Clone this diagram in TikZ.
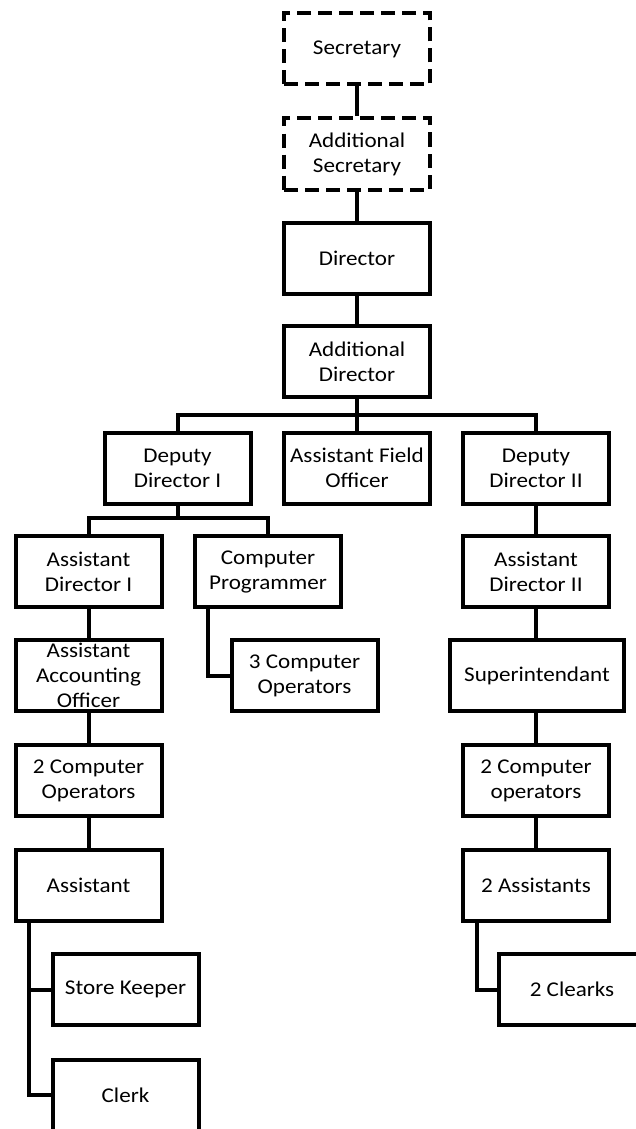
\documentclass[tikz,border=0pt]{standalone}
\usepackage{fontspec}
\setmainfont{Carlito}[FakeStretch=1.1]
\begin{document}
\begin{tikzpicture}[x=1pt,y=-1pt,
  every node/.style={font=\fontsize{21}{25}\selectfont},
  box/.style={draw=black,line width=4pt,minimum width=146pt,minimum height=71pt,
    inner sep=0pt,align=center,line join=miter},
  dbox/.style={box,dash pattern=on 14pt off 7pt},
  link/.style={draw=black,line width=4pt,line join=miter,line cap=butt}]
\useasboundingbox (0,0) rectangle (635,1129);
\node[dbox] (sec) at (357,49) {Secretary};
\node[dbox] (asec) at (357,154) {Additional\\Secretary};
\node[box] (dir) at (357,258) {Director};
\node[box] (adir) at (357,361.5) {Additional\\Director};
\node[box] (dd1) at (177.5,468) {Deputy\\Director I};
\node[box] (afo) at (357,468) {Assistant Field\\Officer};
\node[box] (dd2) at (536,468) {Deputy\\Director II};
\node[box] (ad1) at (88.5,571.5) {Assistant\\Director I};
\node[box] (cp) at (268,571.5) {Computer\\Programmer};
\node[box] (ad2) at (536,571.5) {Assistant\\Director II};
\node[box] (aao) at (88.5,675.5) {Assistant\\Accounting\\Officer};
\node[box] (cop3) at (304.5,675.5) {3 Computer\\Operators};
\node[box,minimum width=174pt] (sup) at (537,675.5) {Superintendant};
\node[box] (co2l) at (88.5,780.5) {2 Computer\\Operators};
\node[box] (co2r) at (536,780.5) {2 Computer\\operators};
\node[box] (asst) at (88.5,885) {Assistant};
\node[box] (asst2) at (536,885) {2 Assistants};
\node[box] (sk) at (125.5,989.5) {Store Keeper};
\node[box] (clerk) at (125.5,1095) {Clerk};
\node[box] (clearks) at (572,989.5) {2 Clearks};
\coordinate (bar1) at (357,415);
\coordinate (bar2) at (177.5,518);
\path[link] (sec.south) -- (asec.north);
\path[link] (asec.south) -- (dir.north);
\path[link] (dir.south) -- (adir.north);
\path[link] (adir.south) -- (afo.north);
\path[link] (dd1.north) |- (bar1) -| (dd2.north);
\path[link] (dd1.south) -- (bar2);
\path[link] (ad1.north) |- (bar2) -| (cp.north);
\path[link] ([xshift=-60pt]cp.south) |- (cop3.west);
\path[link] (ad1.south) -- (aao.north);
\path[link] (aao.south) -- (co2l.north);
\path[link] (co2l.south) -- (asst.north);
\path[link] (dd2.south) -- (ad2.north);
\path[link] (ad2.south) -- (ad2.south |- sup.north);
\path[link] (co2r.north |- sup.south) -- (co2r.north);
\path[link] (co2r.south) -- (asst2.north);
\path[link] ([xshift=-59.5pt]asst.south) |- (clerk.west);
\path[link] ([xshift=-59.5pt]asst.south) |- (sk.west);
\path[link] ([xshift=-59pt]asst2.south) |- (clearks.west);
\end{tikzpicture}
\end{document}
